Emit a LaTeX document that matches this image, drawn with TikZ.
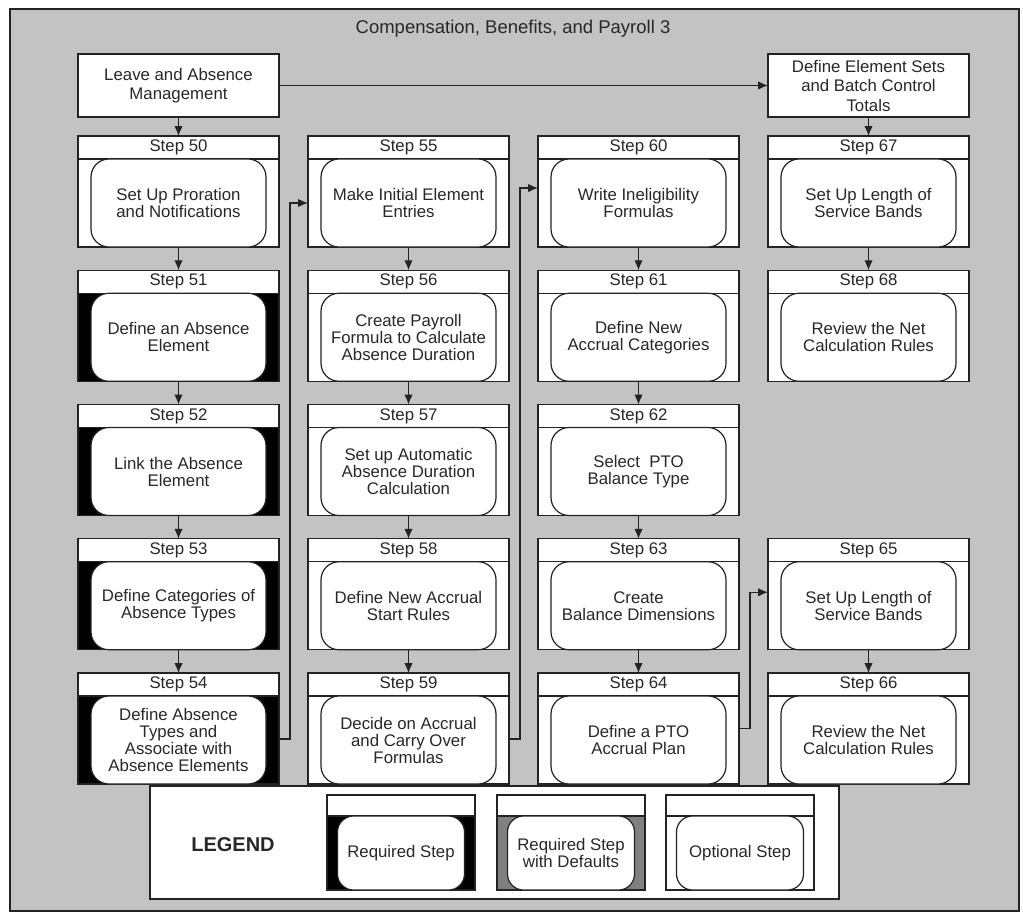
\documentclass[tikz,border=0pt]{standalone}
\usepackage{fontspec}
\setmainfont{Liberation Sans}
\usetikzlibrary{arrows.meta,calc}
\definecolor{bg}{RGB}{195,195,195}
\definecolor{ln}{RGB}{35,35,35}
\definecolor{tx}{RGB}{40,40,40}
\definecolor{midgray}{RGB}{128,128,128}
\tikzset{
 nodebase/.style={draw=ln, line width=1.2pt, inner sep=0pt, outer sep=0pt, text=tx, align=center, font=\fontsize{16.8}{17}\selectfont},
 stepbody/.style={nodebase, anchor=north west, minimum width=201pt, minimum height=111pt},
 stephead/.style={nodebase, fill=white, anchor=north west, minimum width=201pt, minimum height=23pt},
 roundbox/.style={nodebase, fill=white, rounded corners=18pt, anchor=north, minimum width=175pt, minimum height=88pt},
 topbox/.style={nodebase, fill=white, anchor=north west, minimum width=201pt, minimum height=63pt, font=\fontsize{16.8}{19.5}\selectfont},
 legbody/.style={nodebase, anchor=north west, minimum width=148pt, minimum height=95pt},
 leghead/.style={nodebase, fill=white, anchor=north west, minimum width=148pt, minimum height=21pt},
 leground/.style={nodebase, fill=white, rounded corners=16pt, anchor=north, minimum width=127pt, minimum height=74pt},
 conn/.style={draw=ln, line width=1.2pt, -{Latex[length=10pt,width=8.5pt]}},
}
\newcommand\stepnode[6]{%
 \node[stepbody, fill=#6] (#1) at (#2,#3) {};
 \node[stephead] (#1h) at (#2,#3) {#4};
 \node[roundbox] (#1i) at (#1h.south) {#5};
}
\newcommand\legitem[5]{%
 \node[legbody, fill=#5] (#1) at (#2,#3) {};
 \node[leghead] (#1h) at (#2,#3) {};
 \node[leground] (#1i) at (#1h.south) {#4};
}
\begin{document}
\begin{tikzpicture}[x=1pt,y=-1pt]
\useasboundingbox (0,0) rectangle (1023,914);
\fill[white] (0,0) rectangle (1023,914);
\draw[fill=bg, draw=ln, line width=1.2pt] (10,9) rectangle (1019,911);
\node[text=tx, font=\fontsize{18.5}{20}\selectfont] (title) at (513,29) {Compensation, Benefits, and Payroll 3};

\node[topbox] (lam) at (78,54) {Leave and Absence\\Management};
\node[topbox] (des) at (768,54) {Define Element Sets\\and Batch Control\\Totals};

% column 1
\stepnode{s50}{78}{136}{Step 50}{Set Up Proration\\and Notifications}{white}
\stepnode{s51}{78}{270.25}{Step 51}{Define an Absence\\Element}{black}
\stepnode{s52}{78}{404.5}{Step 52}{Link the Absence\\Element}{black}
\stepnode{s53}{78}{538.75}{Step 53}{Define Categories of\\Absence Types}{black}
\stepnode{s54}{78}{673}{Step 54}{Define Absence\\Types and\\Associate with\\Absence Elements}{black}
% column 2
\stepnode{s55}{308}{136}{Step 55}{Make Initial Element\\Entries}{white}
\stepnode{s56}{308}{270.25}{Step 56}{Create Payroll\\Formula to Calculate\\Absence Duration}{white}
\stepnode{s57}{308}{404.5}{Step 57}{Set up Automatic\\Absence Duration\\Calculation}{white}
\stepnode{s58}{308}{538.75}{Step 58}{Define New Accrual\\Start Rules}{white}
\stepnode{s59}{308}{673}{Step 59}{Decide on Accrual\\and Carry Over\\Formulas}{white}
% column 3
\stepnode{s60}{538}{136}{Step 60}{Write Ineligibility\\Formulas}{white}
\stepnode{s61}{538}{270.25}{Step 61}{Define New\\Accrual Categories}{white}
\stepnode{s62}{538}{404.5}{Step 62}{Select\ \ PTO\\Balance Type}{white}
\stepnode{s63}{538}{538.75}{Step 63}{Create\\Balance Dimensions}{white}
\stepnode{s64}{538}{673}{Step 64}{Define a PTO\\Accrual Plan}{white}
% column 4
\stepnode{s67}{768}{136}{Step 67}{Set Up Length of\\Service Bands}{white}
\stepnode{s68}{768}{270.25}{Step 68}{Review the Net\\Calculation Rules}{white}
\stepnode{s65}{768}{538.75}{Step 65}{Set Up Length of\\Service Bands}{white}
\stepnode{s66}{768}{673}{Step 66}{Review the Net\\Calculation Rules}{white}

% legend
\node[nodebase, fill=white, anchor=north west, minimum width=689pt, minimum height=113pt] (legend) at (150,786) {};
\node[text=tx, font=\bfseries\fontsize{20}{22}\selectfont] (legtitle) at (233,845) {LEGEND};
\legitem{lreq}{327}{795}{Required Step}{black}
\legitem{ldef}{497}{795}{Required Step\\with Defaults}{midgray}
\legitem{lopt}{666}{795}{Optional Step}{white}

% connectors
\draw[conn] (lam.south) -- (s50.north);
\draw[conn] (lam.east) -- (des.west);
\draw[conn] (des.south) -- (s67.north);
\draw[conn] (s50.south) -- (s51.north);
\draw[conn] (s51.south) -- (s52.north);
\draw[conn] (s52.south) -- (s53.north);
\draw[conn] (s53.south) -- (s54.north);
\draw[conn] (s55.south) -- (s56.north);
\draw[conn] (s56.south) -- (s57.north);
\draw[conn] (s57.south) -- (s58.north);
\draw[conn] (s58.south) -- (s59.north);
\draw[conn] (s60.south) -- (s61.north);
\draw[conn] (s61.south) -- (s62.north);
\draw[conn] (s62.south) -- (s63.north);
\draw[conn] (s63.south) -- (s64.north);
\draw[conn] (s67.south) -- (s68.north);
\draw[conn] (s65.south) -- (s66.north);
\draw[conn] ([yshift=-10.5pt]s54.east) -- ++(11,0) |- ([yshift=-11.5pt]s55.west);
\draw[conn] ([yshift=-10.5pt]s59.east) -- ++(11,0) |- ([yshift=3.5pt]s60.west);
\draw[conn] (s64.east) -- ++(11,0) |- ([yshift=2pt]s65.west);
\end{tikzpicture}
\end{document}
